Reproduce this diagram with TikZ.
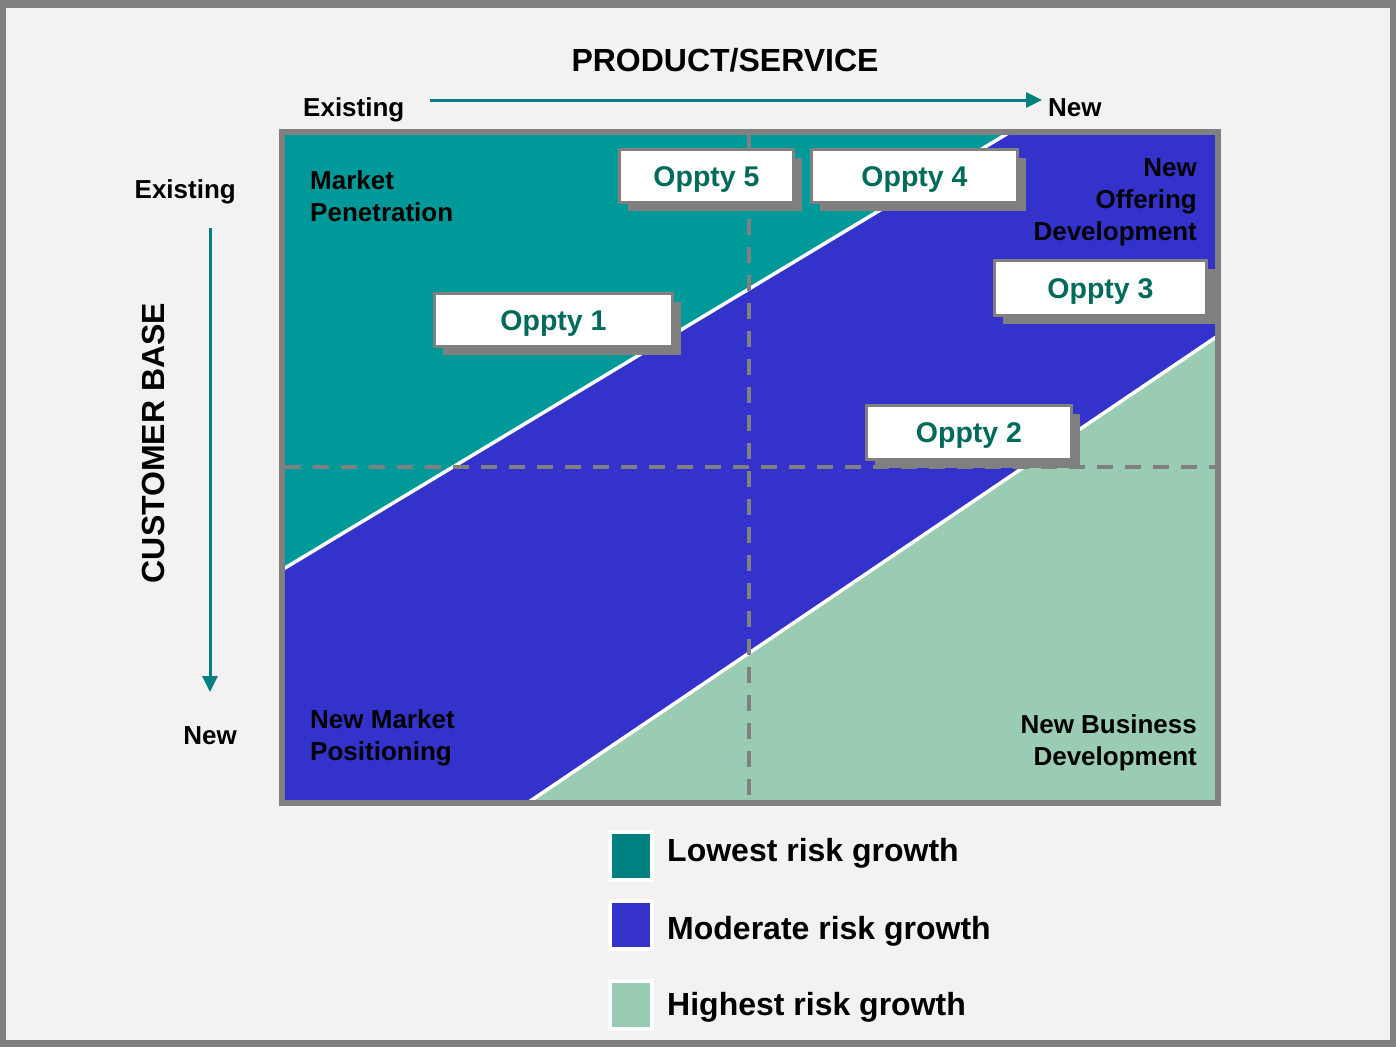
\documentclass[tikz,border=0pt]{standalone}
\usepackage{fontspec}
\setmainfont{Liberation Sans}
\usetikzlibrary{arrows.meta,shadows}
\definecolor{framegray}{HTML}{808080}
\definecolor{bgc}{HTML}{F2F2F2}
\definecolor{tealC}{HTML}{009999}
\definecolor{blueC}{HTML}{3333CC}
\definecolor{greenC}{RGB}{153,204,179}
\definecolor{tealLeg}{HTML}{008080}
\definecolor{arrowC}{HTML}{008080}
\definecolor{oppText}{HTML}{006B5A}
\begin{document}
\begin{tikzpicture}[x=1pt,y=-1pt,
  lbl/.style={inner sep=0pt, text height=18.6pt, text depth=0pt, font=\bfseries\fontsize{26}{32}\selectfont},
  big/.style={inner sep=0pt, text height=22.9pt, text depth=0pt, font=\bfseries\fontsize{32}{38}\selectfont},
  multi/.style={inner sep=0pt, font=\bfseries\fontsize{26}{32}\selectfont},
  oppty/.style={draw=framegray, line width=3pt, fill=white, inner sep=0pt,
    text height=20.4pt, text depth=0pt, text=oppText,
    font=\bfseries\fontsize{28.5}{34}\selectfont,
    drop shadow={shadow xshift=8pt, shadow yshift=-8pt, fill=framegray, opacity=1}},
  legsq/.style={draw=white, line width=4pt, minimum width=42pt, minimum height=48pt, inner sep=0pt},
  arr/.style={draw=arrowC, line width=3pt, -{Triangle[length=16pt,width=15pt]}},
  sep/.style={white, line width=3.5pt},
  dsh/.style={framegray, line width=3.5pt, dash pattern=on 16pt off 12pt}
]
\useasboundingbox (0,0) rectangle (1396,1047);
% page frame
\fill[framegray] (0,0) rectangle (1396,1047);
\fill[bgc] (6,8) rectangle (1390,1040);

% chart interior
\fill[blueC] (285,135) rectangle (1215,800);
\fill[tealC] (285,135) -- (1005,135) -- (285,568) -- cycle;
\fill[greenC] (532,800) -- (1215,338) -- (1215,800) -- cycle;
\begin{scope}
  \clip (285,135) rectangle (1215,800);
  \draw[sep] (275,574) -- (1015,129);
  \draw[sep] (520,808) -- (1225,331);
\end{scope}
\draw[dsh] (749,135) -- (749,800);
\draw[dsh] (285,467) -- (1215,467);

% opportunity boxes
\node[oppty, minimum width=174pt, minimum height=53pt] (o5) at (706.5,176) {Oppty 5};
\node[oppty, minimum width=206pt, minimum height=53pt] (o4) at (914.5,176) {Oppty 4};
\node[oppty, minimum width=238pt, minimum height=53pt] (o1) at (553.5,320) {Oppty 1};
\node[oppty, minimum width=212pt, minimum height=55pt] (o3) at (1100.5,288) {Oppty 3};
\node[oppty, minimum width=205pt, minimum height=54pt] (o2) at (969,432.5) {Oppty 2};

% chart frame
\draw[framegray, line width=6pt] (282,132) rectangle (1218,803);

% quadrant labels
\node[multi, align=left, anchor=north west] (mp) at (310,170) {Market\\Penetration};
\node[multi, align=right, anchor=north east] (nod) at (1197,158) {New\\Offering\\Development};
\node[multi, align=left, anchor=north west] (nmp) at (310,709) {New Market\\Positioning};
\node[multi, align=right, anchor=north east] (nbd) at (1197,714) {New Business\\Development};

% axis titles
\node[big] (ps) at (725,60) {PRODUCT/SERVICE};
\node[big, rotate=90] (cb) at (153,443) {CUSTOMER BASE};
\node[lbl, anchor=west] (ex1) at (303,107) {Existing};
\node[lbl, anchor=west] (new1) at (1048,107) {New};
\node[lbl, anchor=east] (ex2) at (236,189) {Existing};
\node[lbl, anchor=east] (new2) at (237,735) {New};

% axis arrows
\coordinate (hA) at (430,100);
\coordinate (hB) at (1042,100);
\draw[arr] (hA) -- (hB);
\coordinate (vA) at (210,228);
\coordinate (vB) at (210,692);
\draw[arr] (vA) -- (vB);

% legend
\node[legsq, fill=tealLeg] (l1) at (631,856) {};
\node[legsq, fill=blueC] (l2) at (631,925) {};
\node[legsq, fill=greenC] (l3) at (631,1005) {};
\node[big, anchor=west] (t1) at (667,850) {Lowest risk growth};
\node[big, anchor=west] (t2) at (667,928) {Moderate risk growth};
\node[big, anchor=west] (t3) at (667,1004.5) {Highest risk growth};
\end{tikzpicture}
\end{document}
